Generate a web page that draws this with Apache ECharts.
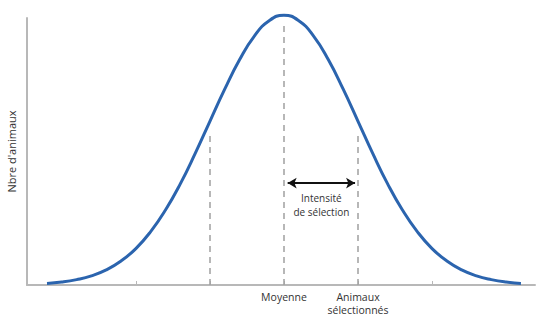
<!DOCTYPE html>
<html>
<head>
<meta charset="utf-8">
<script src="https://cdn.jsdelivr.net/npm/echarts@6/dist/echarts.min.js"></script>
<style>
  html, body { margin: 0; padding: 0; background: #fff; }
  #main { width: 536px; height: 316px; }
</style>
</head>
<body>
<div id="main"></div>
<script>
// position in standard deviations from the mean
var ecarts = [-3.2, -3.0, -2.8, -2.6, -2.4, -2.2, -2.0, -1.8, -1.6, -1.4, -1.2, -1.0, -0.8, -0.6, -0.4, -0.2, 0,
    0.2, 0.4, 0.6, 0.8, 1.0, 1.2, 1.4, 1.6, 1.8, 2.0, 2.2, 2.4, 2.6, 2.8, 3.0, 3.2];
// relative number of animals (peak = 1)
var effectifs = [0.006, 0.011, 0.020, 0.034, 0.056, 0.089, 0.135, 0.198, 0.278, 0.375, 0.487, 0.607, 0.726, 0.835, 0.923, 0.980, 1.0,
    0.980, 0.923, 0.835, 0.726, 0.607, 0.487, 0.375, 0.278, 0.198, 0.135, 0.089, 0.056, 0.034, 0.020, 0.011, 0.006];
var graduations = [-2, -1, 0, 1, 2];
var etiquettes = { 0: 'Moyenne', 1: 'Animaux\nsélectionnés' };

var myChart = echarts.init(document.getElementById('main'), null, { renderer: 'svg' });

var points = ecarts.map(function (x, i) {
    return [x, effectifs[i]];
});

var gris = '#b8b8b8';
var police = 'Open Sans';

option = {
    animation: false,
    grid: { left: 27, right: 1, top: 18, bottom: 31, outerBoundsMode: 'none', containLabel: false },
    xAxis: {
        type: 'value',
        min: -3.47,
        max: 3.39,
        splitLine: { show: false },
        axisLine: { onZero: false, lineStyle: { color: gris, width: 2 } },
        axisTick: {
            show: true,
            inside: true,
            length: 4,
            customValues: graduations,
            lineStyle: { color: gris, width: 1 }
        },
        axisLabel: {
            customValues: [0, 1],
            margin: 5,
            fontFamily: police,
            fontSize: 10.5,
            lineHeight: 13,
            color: '#333',
            formatter: function (v) {
                return etiquettes[v] || '';
            }
        }
    },
    yAxis: {
        type: 'value',
        min: 0,
        max: 0.99,
        name: "Nbre d'animaux",
        nameLocation: 'middle',
        nameRotate: 90,
        nameGap: 10,
        nameTextStyle: { fontFamily: police, fontSize: 11, color: '#333' },
        splitLine: { show: false },
        axisLine: { show: true, onZero: false, lineStyle: { color: gris, width: 2 } },
        axisTick: { show: false },
        axisLabel: { show: false }
    },
    series: [
        {
            type: 'line',
            data: points,
            smooth: true,
            clip: false,
            showSymbol: false,
            z: 3,
            lineStyle: { color: '#2b64ae', width: 3 }
        },
        {
            type: 'line',
            data: [],
            z: 2,
            markLine: {
                silent: true,
                symbol: 'none',
                label: { show: false },
                lineStyle: { color: '#a0a0a0', width: 1.5, type: [6, 5] },
                data: [
                    [{ coord: [-1, 0] }, { coord: [-1, 0.56] }],
                    [{ coord: [0, 0] }, { coord: [0, 0.97] }],
                    [{ coord: [1, 0] }, { coord: [1, 0.56] }]
                ]
            }
        },
        {
            type: 'line',
            data: [],
            z: 4,
            markLine: {
                silent: true,
                symbol: ['arrow', 'arrow'],
                symbolSize: [8, 9],
                lineStyle: { color: '#111', width: 2, type: 'solid' },
                label: {
                    show: true,
                    position: 'insideMiddleBottom',
                    distance: 8,
                    formatter: 'Intensité\nde sélection',
                    fontFamily: police,
                    fontSize: 10,
                    lineHeight: 14,
                    color: '#333'
                },
                data: [
                    [{ coord: [0.05, 0.378] }, { coord: [0.96, 0.378] }]
                ]
            }
        }
    ]
};

myChart.setOption(option);
</script>
</body>
</html>
